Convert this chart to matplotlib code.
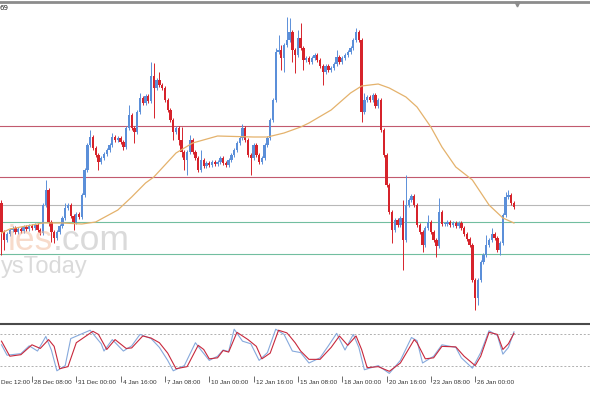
import numpy as np
import matplotlib.pyplot as plt
from matplotlib.lines import Line2D

# 4H candles, prices in chart units (higher = up)
first_open = 117
closes = [88, 80, 86, 90, 92, 88, 91, 89, 93, 91,
          94, 92, 95, 90, 87, 115, 130, 98, 88, 82,
          88, 94, 102, 112, 115, 104, 98, 106, 103, 125,
          150, 175, 183, 172, 165, 158, 162, 166, 170, 175,
          183, 180, 182, 178, 173, 192, 205, 192, 188, 208,
          222, 217, 224, 219, 244, 232, 240, 235, 232, 220,
          210, 200, 188, 192, 180, 168, 160, 168, 180, 168,
          162, 150, 160, 154, 157, 155, 158, 156, 158, 162,
          157, 155, 160, 165, 170, 177, 182, 192, 180, 165,
          162, 175, 165, 158, 162, 175, 182, 200, 220, 268,
          270, 262, 275, 280, 288, 270, 265, 282, 272, 260,
          262, 258, 262, 265, 260, 254, 248, 254, 250, 252,
          256, 263, 258, 262, 265, 268, 272, 280, 288, 280,
          208, 220, 223, 220, 225, 214, 220, 190, 165, 135,
          108, 90, 100, 95, 102, 80, 115, 120, 124, 115,
          95, 88, 75, 92, 98, 88, 80, 74, 108, 96,
          96, 98, 95, 97, 94, 97, 92, 86, 81, 75,
          40, 22, 40, 58, 65, 75, 80, 86, 82, 70,
          77, 105, 123, 125, 117, 113]
upper_wick = [3, 2, 2, 2, 2, 2, 2, 2, 2, 2,
              2, 2, 2, 2, 2, 2, 10, 2, 2, 2,
              2, 2, 2, 5, 2, 2, 2, 2, 2, 2,
              2, 2, 7, 2, 2, 2, 2, 2, 2, 2,
              4, 2, 2, 2, 2, 2, 10, 2, 2, 2,
              5, 2, 2, 2, 14, 13, 2, 8, 2, 2,
              2, 2, 2, 2, 2, 13, 2, 2, 5, 2,
              2, 2, 10, 2, 2, 2, 2, 2, 2, 2,
              2, 2, 2, 2, 2, 2, 2, 4, 2, 2,
              2, 2, 2, 2, 2, 2, 2, 2, 2, 4,
              15, 5, 2, 23, 14, 2, 2, 8, 15, 2,
              2, 2, 2, 2, 2, 2, 2, 2, 2, 2,
              2, 7, 2, 2, 2, 2, 2, 2, 4, 2,
              2, 7, 2, 2, 2, 2, 2, 2, 2, 2,
              2, 2, 2, 2, 2, 18, 30, 2, 2, 2,
              2, 2, 2, 2, 7, 2, 2, 2, 14, 2,
              2, 2, 2, 2, 2, 2, 2, 2, 2, 2,
              2, 2, 2, 2, 2, 10, 2, 6, 2, 2,
              2, 2, 5, 5, 2, 2]
lower_wick = [23, 10, 2, 2, 2, 2, 2, 2, 2, 2,
              2, 2, 2, 2, 2, 2, 2, 4, 10, 5,
              2, 2, 2, 2, 2, 2, 8, 2, 2, 2,
              2, 2, 2, 2, 2, 8, 2, 2, 2, 2,
              2, 2, 2, 2, 3, 2, 2, 2, 11, 2,
              2, 2, 2, 2, 2, 30, 2, 2, 2, 2,
              2, 2, 8, 2, 5, 5, 10, 15, 2, 2,
              2, 2, 2, 2, 2, 2, 2, 2, 2, 2,
              2, 2, 2, 2, 2, 2, 2, 2, 2, 2,
              17, 2, 2, 2, 2, 2, 2, 2, 2, 2,
              2, 12, 14, 2, 2, 12, 18, 2, 2, 10,
              2, 2, 2, 2, 2, 2, 13, 2, 2, 2,
              2, 2, 2, 2, 2, 2, 2, 2, 2, 2,
              10, 2, 2, 2, 2, 2, 2, 2, 2, 2,
              2, 13, 2, 2, 2, 30, 2, 2, 2, 2,
              2, 2, 7, 2, 2, 2, 2, 11, 2, 2,
              2, 2, 2, 2, 2, 2, 2, 2, 2, 2,
              2, 12, 7, 2, 2, 2, 2, 2, 2, 2,
              5, 2, 2, 2, 2, 2]

# moving average (bar index, value)
ma_bars = [0, 3, 15, 22, 29, 34, 42, 47, 52, 55, 63, 69, 78, 91, 96, 102, 108,
           111, 119, 126, 130, 136, 140, 146, 150, 155, 159, 164, 170, 176, 181, 185]
ma_vals = [87, 91, 97, 97, 96, 98, 110, 123, 137, 143, 167, 177, 184, 183, 183, 187, 193,
           197, 210, 227, 234, 236, 232, 223, 213, 193, 173, 153, 140, 115, 102, 97]

# stochastic %K (blue) and %D (red)
k_bars = [0, 2, 7, 10, 13, 16, 18, 20, 23, 25, 32, 36, 37, 40, 44, 47, 50, 54, 57, 60,
          62, 66, 70, 72, 75, 78, 80, 82, 84, 87, 90, 93, 96, 99, 102, 105, 108, 111,
          115, 118, 121, 124, 127, 129, 131, 136, 140, 144, 148, 150, 152, 156, 159,
          164, 166, 170, 173, 176, 179, 181, 183, 185]
k_vals = [60, 40, 43, 58, 48, 76, 50, 10, 20, 72, 88, 62, 48, 70, 48, 58, 80, 72, 55, 30,
          10, 20, 64, 50, 30, 38, 50, 47, 90, 67, 62, 30, 45, 90, 80, 48, 45, 25,
          35, 58, 82, 50, 80, 55, 12, 20, 5, 30, 74, 68, 25, 38, 60,
          55, 35, 15, 45, 87, 78, 42, 55, 85]
d_bars = [0, 3, 7, 11, 14, 17, 19, 21, 24, 27, 33, 35, 38, 41, 45, 47, 51, 54, 57, 60,
          63, 67, 71, 73, 75, 78, 80, 82, 85, 89, 92, 94, 97, 100, 103, 104, 106, 108,
          111, 115, 119, 122, 125, 128, 130, 132, 136, 140, 144, 149, 150, 153, 156,
          159, 164, 167, 171, 173, 176, 179, 181, 183, 185]
d_vals = [67, 38, 41, 60, 53, 70, 57, 14, 18, 64, 86, 80, 51, 70, 53, 54, 77, 73, 64, 44,
          14, 18, 59, 51, 33, 35, 49, 46, 84, 70, 57, 33, 44, 88, 83, 77, 64, 48,
          32, 32, 55, 77, 59, 77, 51, 16, 18, 9, 25, 70, 64, 33, 35,
          57, 56, 38, 20, 38, 84, 80, 51, 62, 82]

red_levels = [194, 143]
gray_levels = [115]
green_levels = [98, 66]
stoch_levels = [80, 20]

# first label sits partly off the left edge in the terminal; only its tail shows
time_bars = [-5, 11, 27, 43, 59, 75, 91, 107, 123, 139, 155, 171]
time_labels = ["Dec 12:00", "28 Dec 08:00", "31 Dec 00:00", "4 Jan 16:00",
               "7 Jan 08:00", "10 Jan 00:00", "12 Jan 16:00", "15 Jan 08:00",
               "18 Jan 00:00", "20 Jan 16:00", "23 Jan 08:00", "26 Jan 00:00"]

W, H = 590, 393
UP, DOWN = '#5b8fd9', '#d6232b'

fig = plt.figure(figsize=(W / 100, H / 100), dpi=100)
fig.patch.set_facecolor('white')

xlim = (-0.54, 212.45)

# ---- main price window ----
ax = fig.add_axes([0, (H - 320) / H, 1, 316 / H])
ax.set_xlim(*xlim)
ax.set_ylim(0, 316)
ax.axis('off')

for lv in red_levels:
    ax.axhline(lv, color='#c25a6e', lw=0.8, zorder=1)
for lv in gray_levels:
    ax.axhline(lv, color='#b8b8b8', lw=0.8, zorder=1)
for lv in green_levels:
    ax.axhline(lv, color='#72bea0', lw=0.8, zorder=1)

c = np.array(closes, dtype=float)
o = np.concatenate([[first_open], c[:-1]])
hi = np.maximum(o, c) + np.array(upper_wick)
lo = np.minimum(o, c) - np.array(lower_wick)
idx = np.arange(len(c))
cols = np.where(c >= o, UP, DOWN)

ax.vlines(idx, lo, hi, colors=cols, lw=0.7, zorder=2)
ax.bar(idx, np.maximum(np.abs(c - o), 1.0), bottom=np.minimum(o, c),
       width=0.85, color=cols, linewidth=0, zorder=3)

ax.plot(ma_bars, ma_vals, color='#e4b26c', lw=0.9, zorder=4)

# ---- stochastic window ----
ax2 = fig.add_axes([0, (H - 376) / H, 1, 52 / H])
for s in ['left', 'right', 'bottom']:
    ax2.spines[s].set_visible(False)
ax2.spines['top'].set_color('#4a4a4a')
ax2.spines['top'].set_linewidth(1.5)
ax2.set_yticks([])
for lv in stoch_levels:
    ax2.axhline(lv, color='#b0b0b0', lw=0.7, ls=(0, (2, 2)))
ax2.plot(k_bars, k_vals, color='#86a9dc', lw=0.8)
ax2.plot(d_bars, d_vals, color='#c8283c', lw=0.8)

ax2.set_xticks(time_bars)
ax2.set_xticklabels([])
# set_xticks widens the view to the first tick, so set the limits afterwards
ax2.set_xlim(*xlim)
ax2.set_ylim(0, 100)
ax2.tick_params(axis='x', length=4.5, width=0.6, color='#555555', direction='out')
for b, lbl in zip(time_bars, time_labels):
    ax2.annotate(lbl, xy=(max(b, xlim[0]), 0), xycoords=('data', 'axes fraction'),
                 xytext=(0.5 if b < xlim[0] else 1.5, -5), textcoords='offset points',
                 ha='left', va='center', fontsize=4.6, color='#333333',
                 family='Liberation Sans', annotation_clip=False)

# ---- window frame bits ----
fig.add_artist(Line2D([0, 1], [1 - 1.5 / H] * 2, transform=fig.transFigure,
                      color='#8c8c8c', lw=2))
fig.add_artist(Line2D([517 / W], [1 - 4 / H], transform=fig.transFigure,
                      marker='v', ms=3.5, color='#8c8c8c', lw=0))
fig.text(0, 1 - 8 / H, '69', fontsize=5, color='#222222', va='center', ha='left')

# watermark (only the part that shows in the window)
fig.text(53 / W, 1 - 250 / H, 'ies', fontsize=25.5, family='Liberation Sans',
         color='#f0b898', alpha=0.5, ha='right', va='baseline')
fig.text(53 / W, 1 - 250 / H, '.com', fontsize=25.5, family='Liberation Sans',
         color='#bdbdbd', alpha=0.55, ha='left', va='baseline')
fig.text(1 / W, 1 - 273 / H, 'ysToday', fontsize=17, family='Liberation Sans',
         color='#bdbdbd', alpha=0.55, ha='left', va='baseline')

fig.savefig('out.png', dpi=100)
